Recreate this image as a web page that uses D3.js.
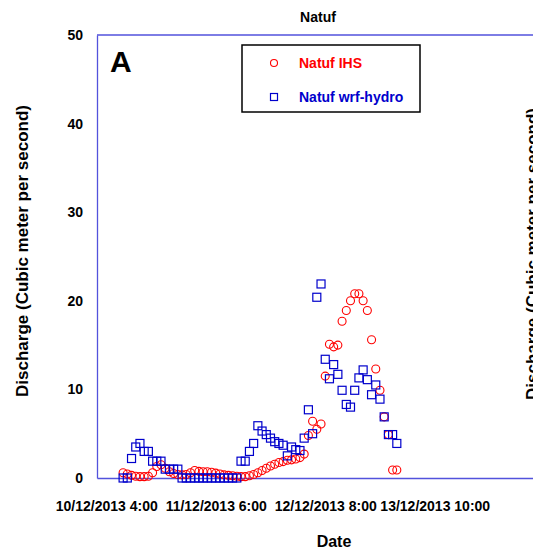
<!DOCTYPE html>
<html><head><meta charset="utf-8">
<script src="https://cdn.jsdelivr.net/npm/d3@7"></script>
<style>
html,body{margin:0;padding:0;background:#fff;overflow:hidden}
text{font-family:Arial,"Liberation Sans",sans-serif;font-weight:bold}
</style></head><body>
<svg id="chart" width="533" height="550"></svg>
<script>
// Time of each reading, in hours since 10/12/2013 00:00
const hours = [8,9,10,11,12,13,14,15,16,17,18,19,20,21,22,23,24,25,26,27,28,29,30,31,32,33,34,35,36,37,38,39,40,41,42,43,44,45,46,47,48,49,50,51,52,53,54,55,56,57,58,59,60,61,62,63,64,65,66,67,68,69,70,71,72,73];

// Observed discharge (IHS), m3/s
const ihs = [0.6,0.45,0.3,0.2,0.15,0.15,0.2,0.6,1.3,1.5,1.1,0.7,0.5,0.4,0.35,0.4,0.6,0.85,0.75,0.7,0.7,0.65,0.55,0.45,0.35,0.3,0.25,0.2,0.15,0.15,0.25,0.4,0.6,0.85,1.1,1.35,1.55,1.75,1.85,2.0,2.05,2.15,2.3,2.7,4.8,6.4,5.5,6.1,11.5,15.1,14.8,15.0,17.7,18.9,20.0,20.8,20.8,20.0,18.9,15.6,12.3,9.9,6.9,4.9,0.9,0.9];

// Simulated discharge (WRF-Hydro), m3/s
const wrfHydro = [0,0,2.2,3.5,3.9,3.0,3.0,1.9,1.9,1.9,1.0,1.0,1.0,1.0,0,0,0,0,0,0,0,0,0,0,0,0,0,0,1.9,1.9,3.0,3.9,5.9,5.3,4.9,4.5,4.1,3.9,3.7,2.5,3.5,3.2,3.1,4.5,7.7,5.0,20.4,21.9,13.4,11.2,12.8,11.7,9.9,8.3,8.0,9.9,11.3,12.2,11.1,9.4,10.5,8.9,6.9,4.9,4.9,3.9];

const xTickHours = [4,30,56,82];
const xTickLabels = ["10/12/2013 4:00","11/12/2013 6:00","12/12/2013 8:00","13/12/2013 10:00"];
const yTicks = [0,10,20,30,40,50];
const seriesNames = ["Natuf IHS","Natuf wrf-hydro"];

const RED = "#ff0000", BLUE = "#0000cc", FRAME = "#5252dc";
const plotLeft = 97, plotTop = 35, plotBottom = 478, plotRight = 572;
const FONT = "Arial, 'Liberation Sans', sans-serif";

const svg = d3.select("#chart");
const x = d3.scaleLinear().domain([1.8, 114.6]).range([plotLeft, plotRight]);
const y = d3.scaleLinear().domain([0, 50]).range([plotBottom, plotTop]);

// frame
svg.append("line").attr("x1", plotLeft).attr("x2", plotRight).attr("y1", plotTop).attr("y2", plotTop)
  .attr("stroke", FRAME).attr("stroke-width", 1.3);
svg.append("line").attr("x1", plotRight).attr("x2", plotRight).attr("y1", plotTop).attr("y2", plotBottom)
  .attr("stroke", FRAME).attr("stroke-width", 1.3);

// y axis
const yAxis = svg.append("g").attr("transform", `translate(${plotLeft},0)`)
  .call(d3.axisLeft(y).tickValues(yTicks).tickSize(0).tickPadding(14));
yAxis.select(".domain").attr("stroke", FRAME).attr("stroke-width", 1.3);
yAxis.selectAll("text").attr("font-size", 14).attr("font-family", FONT)
  .attr("font-weight", "bold").attr("fill", "#000");

// x axis
const xAxis = svg.append("g").attr("transform", `translate(0,${plotBottom})`)
  .call(d3.axisBottom(x).tickValues(xTickHours).tickSize(0)
    .tickFormat((d, i) => xTickLabels[i]));
xAxis.select(".domain").attr("stroke", FRAME).attr("stroke-width", 1.3);
xAxis.selectAll("text").attr("y", 28).attr("dy", "0.35em").attr("font-size", 14)
  .attr("font-family", FONT).attr("font-weight", "bold").attr("fill", "#000");

// observed: open circles
svg.append("g").selectAll("circle").data(hours).join("circle")
  .attr("cx", (d) => x(d)).attr("cy", (d, i) => y(ihs[i])).attr("r", 4)
  .attr("fill", "none").attr("stroke", RED).attr("stroke-width", 1.1);

// simulated: open squares
svg.append("g").selectAll("rect").data(hours).join("rect")
  .attr("x", (d) => x(d) - 4).attr("y", (d, i) => y(wrfHydro[i]) - 4)
  .attr("width", 8).attr("height", 8)
  .attr("fill", "none").attr("stroke", BLUE).attr("stroke-width", 1.2);

// titles
svg.append("text").attr("x", 318).attr("y", 22).attr("text-anchor", "middle")
  .attr("font-size", 14).text("Natuf");
svg.append("text").attr("x", 110).attr("y", 72).attr("font-size", 30).text("A");
svg.append("text").attr("x", 334).attr("y", 547).attr("text-anchor", "middle")
  .attr("font-size", 16).text("Date");
svg.append("text").attr("transform", "translate(28,251) rotate(-90)").attr("text-anchor", "middle")
  .attr("font-size", 17).text("Discharge (Cubic meter per second)");
// neighbouring panel's axis title, cut by the page edge
svg.append("text").attr("transform", "translate(538,254) rotate(-90)").attr("text-anchor", "middle")
  .attr("font-size", 17).text("Discharge (Cubic meter per second)");

// legend
const lg = svg.append("g");
lg.append("rect").attr("x", 242).attr("y", 45).attr("width", 178).attr("height", 67)
  .attr("fill", "#fff").attr("stroke", "#000").attr("stroke-width", 1.5);
lg.append("circle").attr("cx", 274).attr("cy", 63).attr("r", 3.5)
  .attr("fill", "none").attr("stroke", RED).attr("stroke-width", 1.1);
lg.append("rect").attr("x", 270.5).attr("y", 93.5).attr("width", 7).attr("height", 7)
  .attr("fill", "none").attr("stroke", BLUE).attr("stroke-width", 1.2);
lg.append("text").attr("x", 299).attr("y", 63).attr("dy", "0.35em").attr("font-size", 14)
  .attr("fill", RED).text(seriesNames[0]);
lg.append("text").attr("x", 299).attr("y", 97).attr("dy", "0.35em").attr("font-size", 14)
  .attr("fill", BLUE).text(seriesNames[1]);
</script>
</body></html>
